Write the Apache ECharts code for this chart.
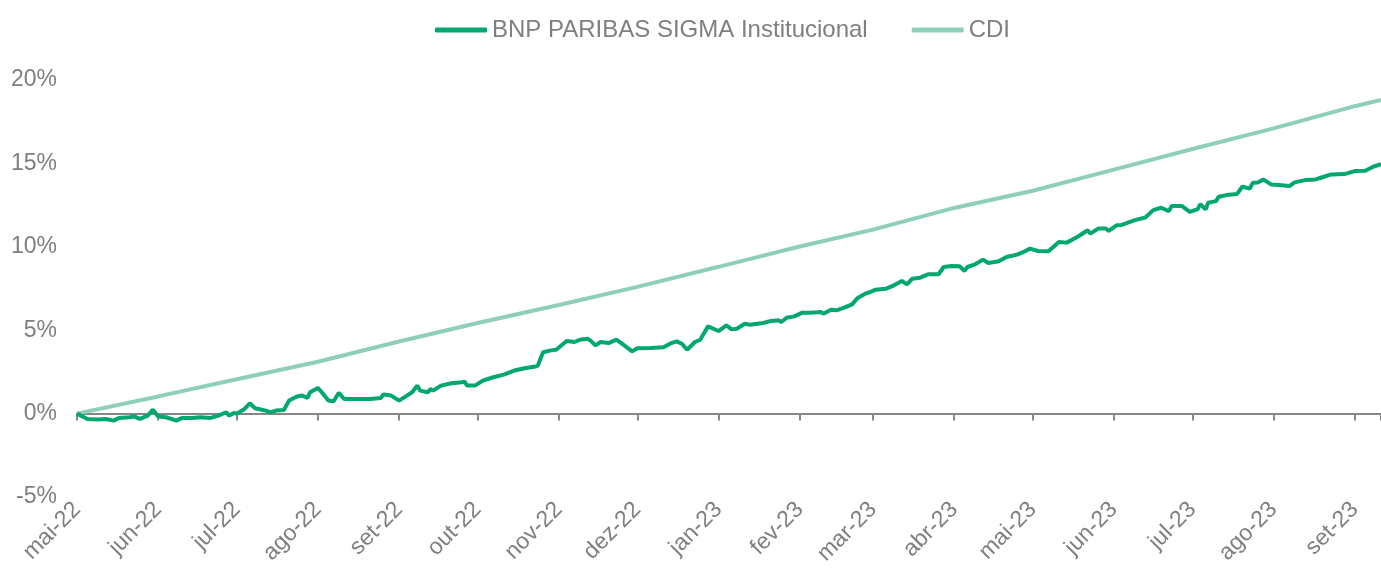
<!DOCTYPE html>
<html>
<head>
<meta charset="utf-8">
<script src="https://cdn.jsdelivr.net/npm/echarts@6/dist/echarts.min.js"></script>
<style>
  html, body { margin: 0; padding: 0; background: #fff; }
  #chart { width: 1381px; height: 577px; }
</style>
</head>
<body>
<div id="chart"></div>
<script>
// Fund vs CDI, cumulative return (%)
var seriesNames = ['BNP PARIBAS SIGMA Institucional', 'CDI'];
var monthNames = ['jan', 'fev', 'mar', 'abr', 'mai', 'jun', 'jul', 'ago', 'set', 'out', 'nov', 'dez'];
var startDate = '2022-05-01';
var endDate = '2023-09-11';
var yMin = -5, yMax = 20, yStep = 5;

var fundData = [
  ['2022-05-01', 0], ['2022-05-05', -0.32], ['2022-05-09', -0.36], ['2022-05-12', -0.32],
  ['2022-05-15', -0.42], ['2022-05-17', -0.26], ['2022-05-21', -0.22], ['2022-05-23', -0.18],
  ['2022-05-25', -0.32], ['2022-05-28', -0.12], ['2022-05-30', 0.24], ['2022-06-01', -0.18],
  ['2022-06-04', -0.22], ['2022-06-08', -0.42], ['2022-06-10', -0.26], ['2022-06-14', -0.26],
  ['2022-06-17', -0.22], ['2022-06-21', -0.26], ['2022-06-24', -0.12], ['2022-06-27', 0.08],
  ['2022-06-28', -0.12], ['2022-06-30', 0.04], ['2022-07-01', 0.0], ['2022-07-04', 0.28],
  ['2022-07-06', 0.62], ['2022-07-08', 0.32], ['2022-07-11', 0.22], ['2022-07-14', 0.08],
  ['2022-07-16', 0.18], ['2022-07-19', 0.22], ['2022-07-21', 0.78], ['2022-07-24', 1.02],
  ['2022-07-26', 1.08], ['2022-07-28', 0.94], ['2022-07-29', 1.28], ['2022-08-01', 1.54],
  ['2022-08-03', 1.18], ['2022-08-05', 0.78], ['2022-08-07', 0.74], ['2022-08-09', 1.25],
  ['2022-08-11', 0.88], ['2022-08-16', 0.88], ['2022-08-21', 0.88], ['2022-08-25', 0.94],
  ['2022-08-26', 1.14], ['2022-08-29', 1.08], ['2022-09-01', 0.78], ['2022-09-04', 1.08],
  ['2022-09-06', 1.28], ['2022-09-08', 1.68], ['2022-09-09', 1.38], ['2022-09-12', 1.28],
  ['2022-09-13', 1.48], ['2022-09-14', 1.38], ['2022-09-17', 1.68], ['2022-09-21', 1.82],
  ['2022-09-25', 1.88], ['2022-09-26', 1.92], ['2022-09-27', 1.68], ['2022-09-30', 1.68],
  ['2022-10-03', 1.98], ['2022-10-07', 2.18], ['2022-10-11', 2.34], ['2022-10-15', 2.58],
  ['2022-10-19', 2.72], ['2022-10-23', 2.82], ['2022-10-24', 2.88], ['2022-10-26', 3.68],
  ['2022-10-29', 3.79], ['2022-10-31', 3.83], ['2022-11-04', 4.35], ['2022-11-07', 4.29],
  ['2022-11-09', 4.43], ['2022-11-12', 4.49], ['2022-11-13', 4.39], ['2022-11-15', 4.09],
  ['2022-11-17', 4.29], ['2022-11-20', 4.23], ['2022-11-23', 4.43], ['2022-11-26', 4.09],
  ['2022-11-29', 3.73], ['2022-12-01', 3.92], ['2022-12-06', 3.94], ['2022-12-11', 3.98],
  ['2022-12-14', 4.23], ['2022-12-16', 4.33], ['2022-12-18', 4.19], ['2022-12-20', 3.83],
  ['2022-12-23', 4.29], ['2022-12-25', 4.43], ['2022-12-28', 5.23], ['2023-01-01', 4.95],
  ['2023-01-04', 5.29], ['2023-01-06', 5.05], ['2023-01-08', 5.09], ['2023-01-11', 5.39],
  ['2023-01-13', 5.33], ['2023-01-18', 5.43], ['2023-01-21', 5.55], ['2023-01-24', 5.59],
  ['2023-01-25', 5.49], ['2023-01-27', 5.75], ['2023-01-30', 5.83], ['2023-02-02', 6.05],
  ['2023-02-05', 6.05], ['2023-02-09', 6.09], ['2023-02-10', 5.99], ['2023-02-13', 6.23],
  ['2023-02-15', 6.19], ['2023-02-18', 6.35], ['2023-02-21', 6.55], ['2023-02-23', 6.92],
  ['2023-02-26', 7.19], ['2023-02-28', 7.29], ['2023-03-02', 7.43], ['2023-03-06', 7.49],
  ['2023-03-09', 7.69], ['2023-03-12', 7.95], ['2023-03-14', 7.75], ['2023-03-16', 8.09],
  ['2023-03-19', 8.15], ['2023-03-22', 8.35], ['2023-03-26', 8.35], ['2023-03-28', 8.79],
  ['2023-03-31', 8.85], ['2023-04-03', 8.83], ['2023-04-05', 8.55], ['2023-04-06', 8.79],
  ['2023-04-09', 8.95], ['2023-04-12', 9.23], ['2023-04-14', 9.03], ['2023-04-18', 9.13],
  ['2023-04-21', 9.39], ['2023-04-25', 9.53], ['2023-04-28', 9.73], ['2023-04-30', 9.89],
  ['2023-05-03', 9.75], ['2023-05-07', 9.73], ['2023-05-11', 10.29], ['2023-05-14', 10.25],
  ['2023-05-18', 10.59], ['2023-05-22', 10.99], ['2023-05-23', 10.79], ['2023-05-26', 11.09],
  ['2023-05-29', 11.09], ['2023-05-30', 10.95], ['2023-06-02', 11.29], ['2023-06-04', 11.31],
  ['2023-06-09', 11.6], ['2023-06-13', 11.76], ['2023-06-14', 11.9], ['2023-06-16', 12.2],
  ['2023-06-19', 12.34], ['2023-06-22', 12.14], ['2023-06-23', 12.44], ['2023-06-27', 12.44],
  ['2023-06-30', 12.1], ['2023-07-03', 12.26], ['2023-07-04', 12.56], ['2023-07-06', 12.24],
  ['2023-07-07', 12.64], ['2023-07-10', 12.74], ['2023-07-11', 13.0], ['2023-07-14', 13.1],
  ['2023-07-18', 13.16], ['2023-07-20', 13.6], ['2023-07-23', 13.5], ['2023-07-24', 13.84],
  ['2023-07-26', 13.86], ['2023-07-28', 14.04], ['2023-07-31', 13.74], ['2023-08-03', 13.7],
  ['2023-08-07', 13.64], ['2023-08-09', 13.86], ['2023-08-13', 14.0], ['2023-08-17', 14.04],
  ['2023-08-19', 14.14], ['2023-08-23', 14.34], ['2023-08-28', 14.36], ['2023-09-01', 14.54],
  ['2023-09-05', 14.56], ['2023-09-08', 14.8], ['2023-09-11', 14.95]
];

var cdiData = [
  ['2022-05-01', 0], ['2022-06-01', 1.03], ['2022-07-01', 2.06], ['2022-08-01', 3.11],
  ['2022-09-01', 4.32], ['2022-10-01', 5.43], ['2022-11-01', 6.51], ['2022-12-01', 7.60],
  ['2023-01-01', 8.80], ['2023-02-01', 10.02], ['2023-03-01', 11.03], ['2023-04-01', 12.33],
  ['2023-05-01', 13.36], ['2023-06-01', 14.63], ['2023-07-01', 15.86], ['2023-08-01', 17.10],
  ['2023-09-01', 18.43], ['2023-09-11', 18.80]
];

var fundColor = '#00a870';
var cdiColor = '#8ecfb8';
var grey = '#7f7f7f';
var axisGrey = '#868686';
var font = 'Liberation Sans, Arial, sans-serif';

function monthLabel(v) {
  var d = new Date(v);
  return monthNames[d.getMonth()] + '-' + String(d.getFullYear()).slice(2);
}

var chart = echarts.init(document.getElementById('chart'), null, { renderer: 'canvas' });
chart.setOption({
  animation: false,
  textStyle: { fontFamily: font },
  legend: {
    top: 13,
    left: 430,
    icon: 'roundRect',
    itemWidth: 52,
    itemHeight: 5,
    itemGap: 44,
    textStyle: { color: grey, fontSize: 24, fontFamily: font },
    data: seriesNames
  },
  grid: { left: 77, right: 0, top: 80, bottom: 80, containLabel: false },
  xAxis: [{
    type: 'time',
    min: startDate,
    max: endDate,
    minInterval: 28 * 86400000,
    maxInterval: 31 * 86400000,
    axisLine: { onZero: true, lineStyle: { color: axisGrey, width: 2 } },
    axisTick: { show: true, length: 7, lineStyle: { color: axisGrey, width: 2 } },
    axisLabel: { show: false },
    splitLine: { show: false }
  }, {
    type: 'time',
    position: 'bottom',
    min: startDate,
    max: endDate,
    minInterval: 28 * 86400000,
    maxInterval: 31 * 86400000,
    axisLine: { show: false, onZero: false },
    axisTick: { show: false },
    axisLabel: {
      rotate: 45,
      margin: 9,
      color: grey,
      fontSize: 23,
      fontFamily: font,
      formatter: monthLabel
    },
    splitLine: { show: false }
  }],
  yAxis: {
    type: 'value',
    min: yMin,
    max: yMax,
    interval: yStep,
    axisLine: { show: false },
    axisTick: { show: false },
    splitLine: { show: false },
    axisLabel: {
      margin: 20,
      color: grey,
      fontSize: 23,
      fontFamily: font,
      formatter: '{value}%'
    }
  },
  series: [{
    name: seriesNames[0],
    type: 'line',
    xAxisIndex: 0,
    data: fundData,
    symbol: 'none',
    z: 3,
    lineStyle: { color: fundColor, width: 4 },
    itemStyle: { color: fundColor }
  }, {
    name: seriesNames[1],
    type: 'line',
    xAxisIndex: 0,
    data: cdiData,
    symbol: 'none',
    z: 2,
    lineStyle: { color: cdiColor, width: 4 },
    itemStyle: { color: cdiColor }
  }]
});
window.addEventListener('resize', function () { chart.resize(); });
</script>
</body>
</html>
